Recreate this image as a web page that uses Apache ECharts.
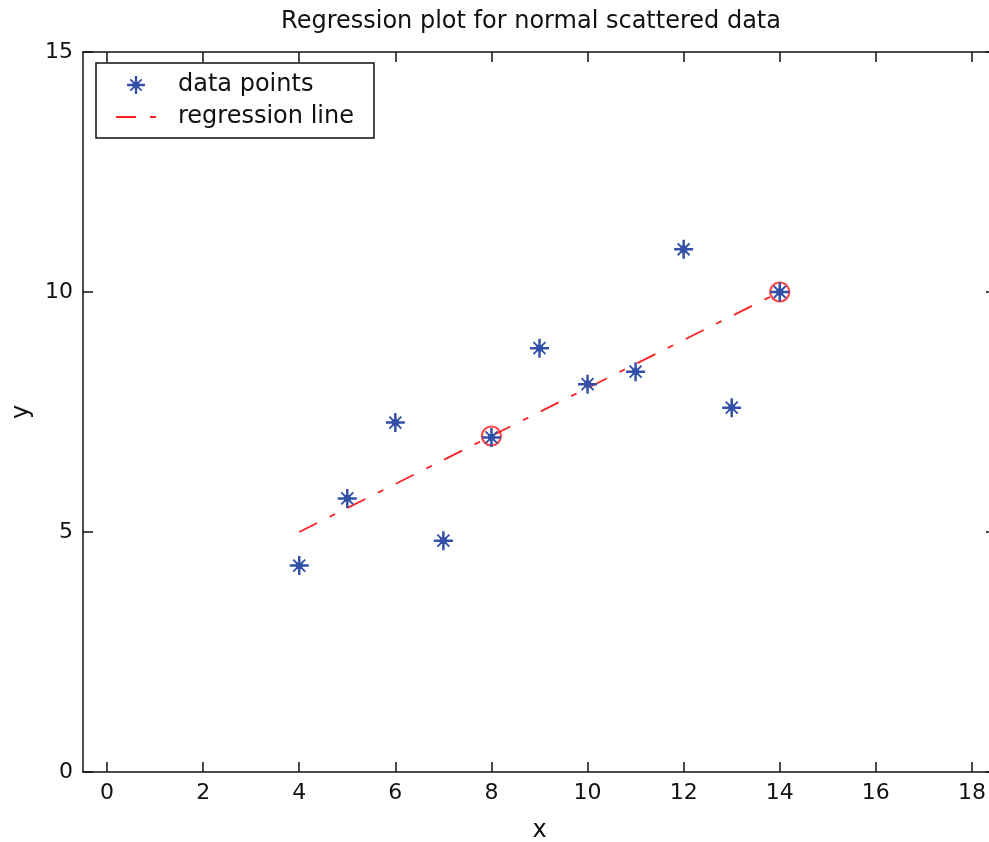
<!DOCTYPE html>
<html><head><meta charset="utf-8">
<script src="https://cdn.jsdelivr.net/npm/echarts@6/dist/echarts.min.js"></script>
<style>html,body{margin:0;padding:0;background:#fff}#chart{width:989px;height:842px}</style>
</head><body><div id="chart"></div>
<script>
const titleText = 'Regression plot for normal scattered data';
const xValues = [4, 5, 6, 7, 8, 9, 10, 11, 12, 13, 14];
const yValues = [4.30, 5.70, 7.28, 4.82, 6.97, 8.83, 8.08, 8.34, 10.89, 7.59, 10.00];
const lineX = [4, 14];
const lineY = [5, 10];
const circleX = [8, 14];
const circleY = [7, 10];
const xTicks = [0, 2, 4, 6, 8, 10, 12, 14, 16, 18];
const yTicks = [0, 5, 10, 15];

const pts = xValues.map((x, i) => [x, yValues[i]]);
const linePts = lineX.map((x, i) => [x, lineY[i]]);
const circPts = circleX.map((x, i) => [x, circleY[i]]);

const starPath = 'path://M-10,-1.3L10,-1.3L10,1.3L-10,1.3Z' +
  'M-1.3,-10L1.3,-10L1.3,10L-1.3,10Z' +
  'M-3.6,-3.6L3.6,-3.6L3.6,3.6L-3.6,3.6Z' +
  'M2.2,3.6L3.6,2.2L7,5.6L5.6,7Z' +
  'M-3.6,2.2L-2.2,3.6L-5.6,7L-7,5.6Z' +
  'M-2.2,-3.6L-3.6,-2.2L-7,-5.6L-5.6,-7Z' +
  'M3.6,-2.2L2.2,-3.6L5.6,-7L7,-5.6Z';

const FONT = 'DejaVu Sans';
const axisLineStyle = { color: '#111', width: 1.5 };

const chart = echarts.init(document.getElementById('chart'), null, { renderer: 'canvas' });
chart.setOption({
  animation: false,
  backgroundColor: '#fff',
  title: {
    text: titleText,
    left: 526, top: 5, textAlign: 'center',
    textStyle: { fontFamily: FONT, fontSize: 24, fontWeight: 'normal', color: '#111' }
  },
  legend: {
    data: ['data points', 'regression line'],
    orient: 'vertical',
    left: 96, top: 63,
    padding: [10, 20, 9, 19],
    itemWidth: 40, itemHeight: 18, itemGap: 8,
    borderColor: '#111', borderWidth: 1.5, borderRadius: 0,
    backgroundColor: '#fff',
    textStyle: { fontFamily: FONT, fontSize: 24, lineHeight: 20, color: '#111', padding: [0, 0, 0, 17] }
  },
  grid: { left: 83, top: 52, width: 913, height: 720, containLabel: false, outerBoundsMode: 'none' },
  xAxis: [{
    type: 'value', min: -0.5, max: 18.5, position: 'bottom',
    name: 'x', nameLocation: 'middle', nameGap: 47,
    nameTextStyle: { fontFamily: FONT, fontSize: 24, color: '#111' },
    axisLine: { show: true, onZero: false, lineStyle: axisLineStyle },
    axisTick: { show: true, inside: true, length: 10, customValues: xTicks, lineStyle: axisLineStyle },
    axisLabel: { show: true, customValues: xTicks, margin: 10, fontFamily: FONT, fontSize: 22, color: '#111' },
    splitLine: { show: false }
  }, {
    type: 'value', min: -0.5, max: 18.5, position: 'top',
    axisLine: { show: true, onZero: false, lineStyle: axisLineStyle },
    axisTick: { show: true, inside: true, length: 10, customValues: xTicks, lineStyle: axisLineStyle },
    axisLabel: { show: false },
    splitLine: { show: false }
  }],
  yAxis: [{
    type: 'value', min: 0, max: 15, interval: 5, position: 'left',
    name: 'y', nameLocation: 'middle', nameGap: 46, nameRotate: 90,
    nameTextStyle: { fontFamily: FONT, fontSize: 24, color: '#111' },
    axisLine: { show: true, onZero: false, lineStyle: axisLineStyle },
    axisTick: { show: true, inside: true, length: 10, customValues: yTicks, lineStyle: axisLineStyle },
    axisLabel: { show: true, customValues: yTicks, margin: 10, fontFamily: FONT, fontSize: 22, color: '#111' },
    splitLine: { show: false }
  }, {
    type: 'value', min: 0, max: 15, interval: 5, position: 'right',
    axisLine: { show: true, onZero: false, lineStyle: axisLineStyle },
    axisTick: { show: true, inside: true, length: 10, customValues: yTicks, lineStyle: axisLineStyle },
    axisLabel: { show: false },
    splitLine: { show: false }
  }],
  series: [{
    name: 'regression line', type: 'line', data: linePts,
    xAxisIndex: 0, yAxisIndex: 0,
    symbol: 'none', z: 2,
    itemStyle: { color: 'rgba(0,0,0,0)' },
    lineStyle: { color: '#ff2020', width: 1.8, type: [20, 14, 6, 14] }
  }, {
    name: 'highlight', type: 'scatter', data: circPts,
    xAxisIndex: 0, yAxisIndex: 0,
    symbol: 'circle', symbolSize: 19, z: 3,
    itemStyle: { color: 'rgba(0,0,0,0)', borderColor: '#ff1a1a', borderWidth: 2.2 }
  }, {
    name: 'data points', type: 'scatter', data: pts,
    xAxisIndex: 0, yAxisIndex: 0,
    symbol: starPath, symbolSize: 19, symbolKeepAspect: true, z: 4,
    itemStyle: { color: '#3350a8', opacity: 1 }
  }]
});
</script></body></html>
